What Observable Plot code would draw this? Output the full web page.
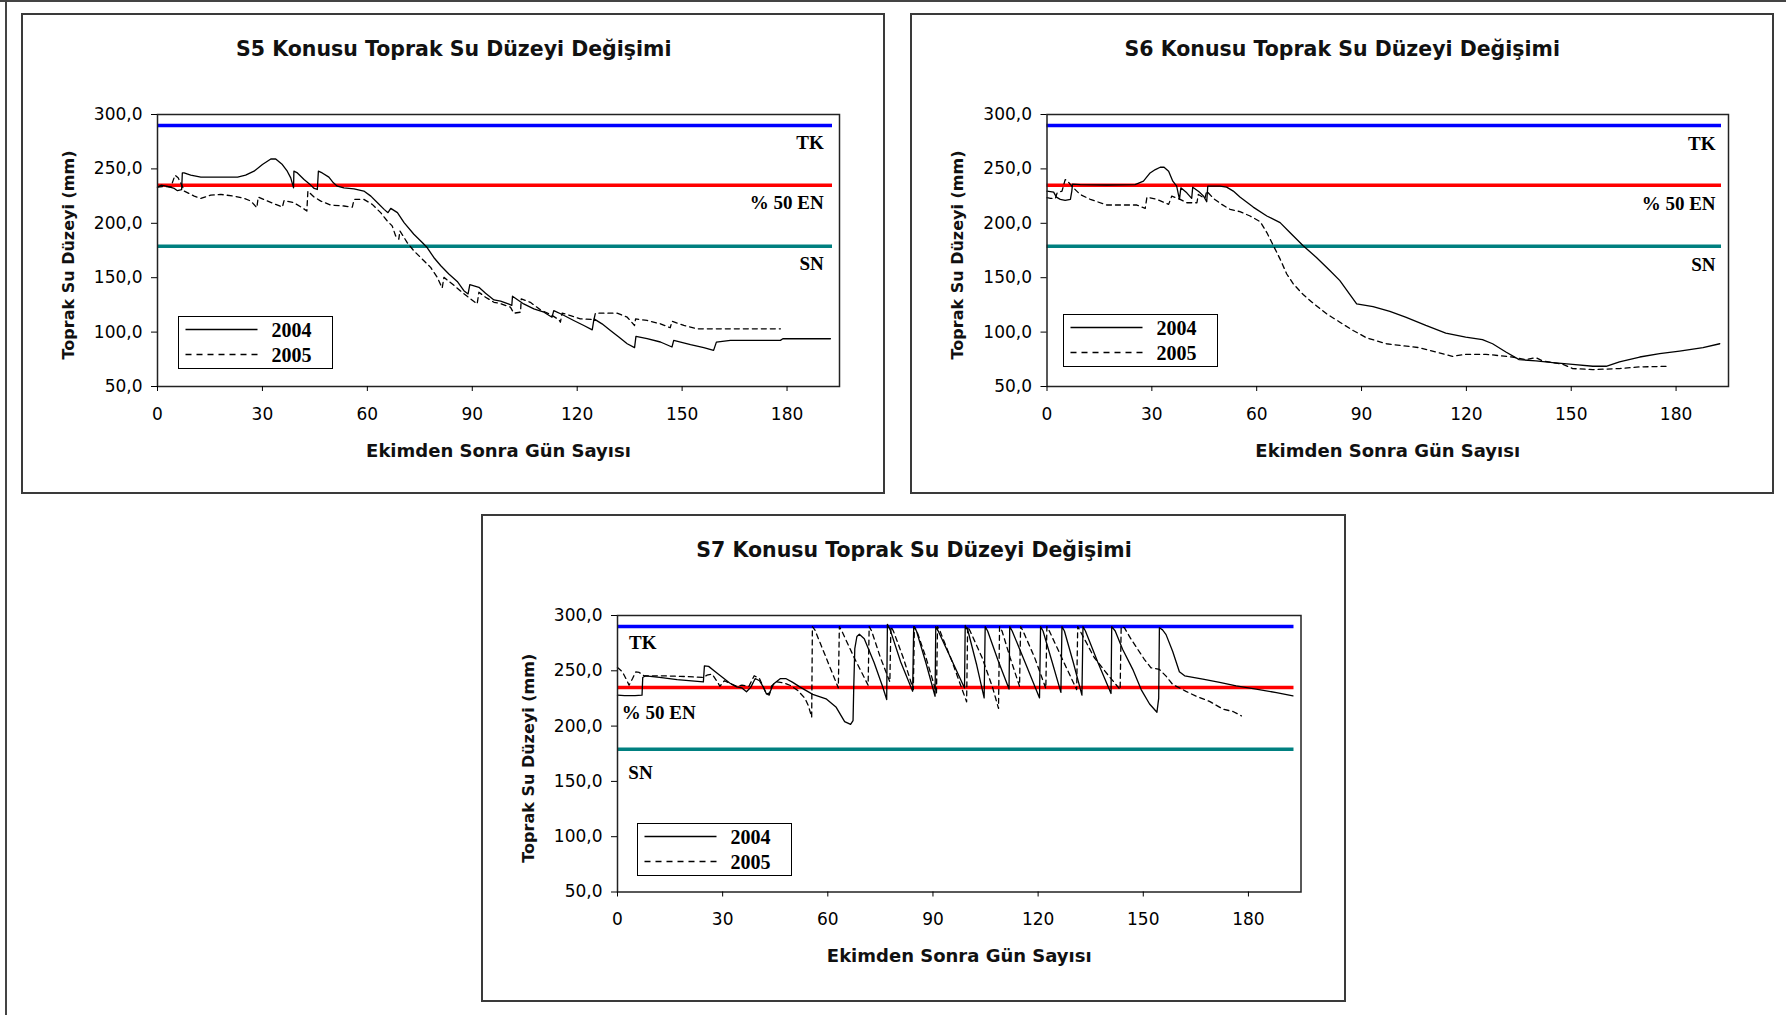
<!DOCTYPE html>
<html>
<head>
<meta charset="utf-8">
<script src="https://cdn.jsdelivr.net/npm/d3@7"></script>
<script src="https://cdn.jsdelivr.net/npm/@observablehq/plot@0.6"></script>
<style>
  html, body { margin: 0; padding: 0; background: #fff; }
  body { width: 1786px; height: 1015px; position: relative; overflow: hidden; font-family: "DejaVu Sans", sans-serif; }
  .topline { position: absolute; left: 0; top: 0; width: 1786px; height: 2px; background: #444; }
  .leftline { position: absolute; left: 5px; top: 0; width: 2px; height: 1015px; background: #444; }
  .panel { position: absolute; border: 2px solid #3a3a3a; box-sizing: border-box; background: #fff; }
  .panel svg.plot { position: absolute; left: 0; top: 0; overflow: visible; }
  .legend { position: absolute; border: 1.5px solid #000; box-sizing: border-box; background: #fff; width: 155px; height: 53px; }
  .legend svg { position: absolute; left: 0; top: 0; }
</style>
</head>
<body>
<div class="topline"></div>
<div class="leftline"></div>
<script>
// ---------- DATA ----------
const xTicks = [0, 30, 60, 90, 120, 150, 180];
const yTicks = [50, 100, 150, 200, 250, 300];
const seriesNames = ["2004", "2005"];
const refNames = ["TK", "% 50 EN", "SN"];
const refValues = [290, 235, 179];
const refEnd = 193;
const xTitle = "Ekimden Sonra Gün Sayısı";
const yTitle = "Toprak Su Düzeyi (mm)";
const titles = ["S5 Konusu Toprak Su Düzeyi Değişimi", "S6 Konusu Toprak Su Düzeyi Değişimi", "S7 Konusu Toprak Su Düzeyi Değişimi"];

const s5_2004 = [[0,233.2],[1,235],[2.9,234],[4.8,232],[5.7,230],[6.9,231],[7.1,246.3],[7.6,246.3],[9.5,244.2],[12.4,242.4],[17.1,242.4],[22.9,242.4],[25.2,244.2],[27.6,247.9],[30,254],[32.4,259.1],[33.8,259.1],[35.7,254],[37.1,247.9],[38.1,241.8],[38.9,232.6],[39.0,247.9],[40,246.3],[41.9,240.2],[43.8,235.1],[44.8,232],[45.7,231.1],[46,247.9],[47.1,246.3],[49,242.4],[50.3,237.2],[51.4,234.1],[53.3,232.6],[56.2,231.7],[59,229.6],[61,225],[62.9,218.9],[64.8,212.8],[65.9,209.8],[66.7,213.7],[68.6,209.8],[70.5,200.6],[73.3,189.9],[75.7,182.3],[77.1,177.7],[79,168.6],[81,161],[83.3,153.4],[85.7,146.6],[87.6,138.1],[88.8,135.1],[89.3,143.6],[91.9,141.2],[93.8,135.7],[96.2,129.6],[98.1,128.5],[100.3,126],[101.3,124.5],[101.5,133],[104.7,125.9],[107.6,121.3],[110.5,118.3],[112.8,113.7],[113.3,119.8],[115.7,116.2],[119,110.7],[121.9,106.1],[124.3,102.1],[124.8,112.2],[127.1,107.6],[129.5,101.5],[131.9,95.4],[134.3,89.3],[136.4,85.7],[136.8,96],[140,93.9],[143.8,90.9],[147.1,86.3],[147.6,92.4],[152.4,88.4],[156.2,85.7],[159,83.2],[159.8,90.8],[163.8,92.4],[178.1,92.4],[178.8,93.9],[192.4,93.9]];
const s5_2005 = [[0,233.2],[2,234],[3.8,233.2],[5,244.2],[5.9,241.8],[7.1,234.1],[7.6,229.6],[10.5,225],[12.4,222.9],[15.2,225.9],[18.1,226.5],[21.9,225],[24.8,222.9],[26.7,220.4],[28.4,214.3],[28.8,224.1],[31,221],[33.8,217.4],[35.7,214.9],[36.2,221],[39,218.9],[41.4,214.3],[42.7,211.3],[43,229.6],[44.8,224.1],[46.7,220.4],[49.5,216.8],[53.3,215.9],[55.7,214.9],[56.2,222],[59,222],[61.4,217.4],[63.8,209.8],[65.7,202.1],[67.1,197.6],[68.1,188.4],[69,185.4],[69.3,193],[71.4,182.3],[73.3,174.7],[75.7,167.1],[78.1,159.5],[80,150.3],[81.4,140.5],[81.9,150.3],[84.3,144.2],[87.1,136.6],[89.5,130.5],[91.4,125.9],[91.9,136.6],[93.8,132],[96.2,127.4],[98.1,126.2],[100.9,122.9],[101.9,117.4],[103.8,118.3],[104,130.5],[106.6,127.4],[109.5,120.4],[112.4,116.2],[114.8,111.3],[115.2,109.1],[115.7,117.4],[118.1,115.2],[120.9,112.2],[124.8,111.5],[125.2,117.4],[131.4,117.4],[134.3,113.7],[136.4,106.1],[136.7,112.2],[140,110.7],[143.8,107.6],[146.6,104],[147.1,110],[150.5,106.1],[154.3,103],[178.1,103]];

const s6_2004 = [[0,229.6],[1.9,228.7],[2.7,224.1],[3.8,222],[5.2,221],[6.7,222],[7.1,229.6],[7.3,236],[9.5,235.5],[17.1,235.2],[25.2,235.5],[27.6,238.7],[29.5,246.3],[31,249.4],[32.4,251.5],[33.5,251.5],[34.8,247.9],[36,238.7],[37.1,234.1],[37.9,222],[38.3,232.6],[40,228],[41.4,222.9],[41.7,233.2],[43.5,229],[44.8,225],[45.7,219.8],[46,234.1],[49.5,234.1],[51.4,233.2],[53.3,229.6],[55.2,224.1],[59,214.9],[62.9,206.7],[66.7,200.6],[69.5,191.5],[73.3,179.3],[77.1,168.6],[81,156.4],[83.8,147.3],[88.6,125.9],[93.3,123.5],[98.1,119],[102.6,113.7],[108.4,106.1],[114.1,99.1],[119.8,95.4],[124.6,93],[127.5,89.3],[131.3,81.7],[135.1,74.7],[139.9,73.5],[144.7,72],[150.4,70.4],[156.2,68.6],[160,68.6],[163.8,72.6],[169.6,77.1],[175.3,80.2],[181,82.6],[187.7,85.7],[192.5,89.3]];
const s6_2005 = [[0,223.5],[1,222.9],[2.4,222.9],[2.9,228],[4.3,229.6],[5.2,240.2],[5.9,238.7],[7.1,234.1],[9.5,226.5],[12.4,222],[17.1,216.8],[25.7,216.8],[28.1,213.7],[28.6,224.1],[31.4,222],[34.8,217.4],[35.7,225],[38.1,222],[40,218.9],[42.9,218.9],[43.3,226.5],[45.2,222.9],[45.7,229.6],[47.6,222.9],[50,217.4],[52.4,212.8],[55.2,210.7],[58.1,206.7],[61,201.5],[62.9,191.5],[64.8,179.3],[66.7,167.1],[68.6,153.4],[70.5,144.2],[73.3,134.5],[76.2,126.5],[80,116.8],[83.8,109.1],[87.6,101.5],[91.4,94.8],[97.1,89.3],[106.5,85.7],[111.2,81.7],[116,77.7],[119.8,79.6],[125.6,79.6],[133.2,77.1],[137,74.7],[139.9,76.5],[141.8,73.5],[147.6,70.4],[150.4,66.5],[156.2,65.5],[163.8,66.5],[169.6,68],[178.2,68.6]];

const s7_2004 = [[0,228],[2,227.5],[5,227.5],[7,228],[7.2,244],[8,245.5],[12,244],[17,242],[24.5,240],[24.8,254.5],[26,254],[28,249],[30,244],[32,239],[34,235.5],[35.5,234.5],[36.8,231],[38,235],[39.3,243],[40.5,241],[41.5,236],[42.5,229],[43.4,230],[44.5,238],[46.5,243],[48,243],[50,239.5],[52,235.5],[55.7,228.7],[59.5,224.7],[62.4,217],[64.8,204],[66.5,201.5],[67.2,205],[67.4,235],[67.7,270],[68.3,281],[69,283],[70.4,279],[73.2,257.5],[75.6,236],[76.8,224],[77.0,292],[77.8,287],[80.8,258],[84.2,231.5],[84.5,290],[85.3,286],[88,257],[90.6,227],[90.8,290],[91.5,286],[95,262],[99,234.5],[99.2,291],[100,286],[102.5,255],[104.6,225.5],[104.9,290],[105.6,286],[108.5,260],[111.7,233.5],[111.9,290],[112.6,286],[116.5,256],[120.4,225.5],[120.7,290],[121.4,286],[124,258],[126.5,230.5],[126.8,290],[127.5,286],[130,258],[132.5,228],[132.8,290],[133.5,286],[137,258],[140.8,229.5],[141,290],[142,286],[144.1,269.5],[147,251.3],[149.4,233],[151.8,220],[153.9,212.5],[154.4,225],[154.6,289],[155.5,287],[156.5,282.7],[158.4,267.5],[160.3,249.2],[161.8,245.5],[167,242.5],[171.8,239.5],[176.5,236.4],[182.2,233.4],[188,230.3],[192.7,227.3]];
const s7_2005 = [[0,253],[1.4,249],[2.4,243],[3.3,237],[4.3,243],[5.2,249],[6.2,248.5],[7.6,245.5],[12,245.5],[18,245],[24.5,244],[25.5,246],[27,247],[28.5,240],[29.2,236],[30.5,241],[32.5,238],[34,236],[35.5,237],[37.5,236],[39,245.5],[40.5,243],[41.5,236],[42.5,229],[43.3,228],[44,236.5],[45.5,240],[47.5,239],[49.5,236.5],[51.5,232],[53.5,225],[54.5,218],[55.4,208],[55.6,290],[56.3,287],[59.5,262],[63.0,234.5],[63.3,290],[64,286],[67.5,262],[71.5,237],[71.8,290],[72.5,286],[75,262],[77.7,240],[78.0,290],[78.7,286],[81.5,262],[84.4,233],[84.7,290],[85.4,286],[88,262],[91.0,230],[91.3,290],[92,286],[95.5,258],[99.6,222],[99.9,290],[100.6,286],[104,262],[107,235],[108.7,216],[109.0,290],[109.7,286],[112,262],[114.7,236],[115.0,290],[115.7,286],[119,262],[122.2,234],[122.5,290],[123.2,286],[127,260],[131.0,233],[131.3,290],[132,286],[136,262],[140,246],[143.4,233],[143.7,290],[144.6,289],[146.5,278.7],[148.4,269.5],[150.3,260.4],[152.2,252.7],[154.6,251.2],[156.5,245.2],[158.4,237.6],[160.3,234.6],[162.2,231.4],[165.1,227],[168.9,222.3],[172.7,215.4],[175.6,213.2],[178,209.2]];

// ---------- LAYOUT (page pixels) ----------
const panels = [
  { title: titles[0], box: [20.5, 12.5, 885, 493.5], frame: [156.5, 113.5, 838.5, 385.5],
    a: s5_2004, b: s5_2005, labSide: "end", labX: [190.5, 190.5, 190.5], labY: [273.5, 218.9, 162.9], legend: [21.8, 202.5] },
  { title: titles[1], box: [910, 12.5, 1773.5, 493.5], frame: [1046.5, 113.5, 1728, 385.5],
    a: s6_2004, b: s6_2005, labSide: "end", labX: [191.3, 191.3, 191.3], labY: [273, 217.5, 162], legend: [16.8, 200.8] },
  { title: titles[2], box: [481, 514, 1346, 1001.5], frame: [617, 615, 1300.5, 891.5],
    a: s7_2004, b: s7_2005, labSide: "start", labX: [3.3, 1.2, 3.1], labY: [275.5, 212, 157.5], legend: [19.6, 207.6] }
];
const refColors = ["#0000ff", "#ff0000", "#008080"];
const BW = 2;
const fmt = d => d3.format(".1f")(d).replace(".", ",");

for (const p of panels) {
  const div = document.createElement("div");
  div.className = "panel";
  const [bx0, by0, bx1, by1] = p.box;
  div.style.left = bx0 + "px";
  div.style.top = by0 + "px";
  div.style.width = (bx1 - bx0) + "px";
  div.style.height = (by1 - by0) + "px";
  document.body.appendChild(div);

  const ox = bx0 + BW, oy = by0 + BW;
  const W = bx1 - bx0 - 2 * BW, H = by1 - by0 - 2 * BW;
  const [fl, ft, fr, fb] = p.frame;
  const mL = fl - ox, mT = ft - oy, mR = W - (fr - ox), mB = H - (fb - oy);
  const boxCx = (bx0 + bx1) / 2, frameCx = (fl + fr) / 2;
  const boxCyOff = ((ft + fb) / 2);

  const marks = [];
  refValues.forEach((v, i) => {
    marks.push(Plot.ruleY([v], { x1: 0, x2: refEnd, stroke: refColors[i], strokeWidth: 3.5 }));
  });
  marks.push(Plot.line(p.a, { x: d => d[0], y: d => d[1], stroke: "#000", strokeWidth: 1.3 }));
  marks.push(Plot.line(p.b, { x: d => d[0], y: d => d[1], stroke: "#000", strokeWidth: 1.3, strokeDasharray: "5,4" }));
  marks.push(Plot.text(refNames, {
    x: (d, i) => p.labX[i], y: (d, i) => p.labY[i], text: d => d,
    textAnchor: p.labSide, fontFamily: "Liberation Serif", fontWeight: "bold", fontSize: 19, fill: "#000"
  }));
  marks.push(Plot.frame({ stroke: "#222", strokeWidth: 1.5 }));
  marks.push(Plot.axisX({ ticks: xTicks, tickSize: 5, tickPadding: 16, label: null, fontSize: 17 }));
  marks.push(Plot.axisY({ ticks: yTicks, tickSize: 6, tickPadding: 9, tickFormat: fmt, label: null, fontSize: 17 }));
  marks.push(Plot.text([p.title], { frameAnchor: "top", textAnchor: "middle", lineAnchor: "middle", dx: boxCx - frameCx, dy: -65, fontWeight: "bold", fontSize: 20.5, fill: "#111" }));
  marks.push(Plot.text([xTitle], { frameAnchor: "bottom", textAnchor: "middle", lineAnchor: "middle", dy: 64.5, fontWeight: "bold", fontSize: 18, fill: "#111" }));
  marks.push(Plot.text([yTitle], { frameAnchor: "left", textAnchor: "middle", lineAnchor: "middle", dx: -89, dy: 4.5, rotate: -90, fontWeight: "bold", fontSize: 16, fill: "#111" }));

  const svg = Plot.plot({
    width: W, height: H,
    marginLeft: mL, marginRight: mR, marginTop: mT, marginBottom: mB,
    x: { domain: [0, 195] },
    y: { domain: [50, 300] },
    style: { fontFamily: "DejaVu Sans", fontSize: "17px", background: "transparent", color: "#000", overflow: "visible" },
    marks
  });
  svg.classList.add("plot");
  div.appendChild(svg);

  // legend
  const lg = document.createElement("div");
  lg.className = "legend";
  lg.style.left = (fl - ox + p.legend[0]) + "px";
  lg.style.top = (ft - oy + p.legend[1]) + "px";
  const ns = "http://www.w3.org/2000/svg";
  const ls = document.createElementNS(ns, "svg");
  ls.setAttribute("width", 152); ls.setAttribute("height", 50);
  seriesNames.forEach((name, i) => {
    const yy = 12.5 + i * 25;
    const ln = document.createElementNS(ns, "line");
    ln.setAttribute("x1", 6.5); ln.setAttribute("x2", 78.5);
    ln.setAttribute("y1", yy); ln.setAttribute("y2", yy);
    ln.setAttribute("stroke", "#000"); ln.setAttribute("stroke-width", 1.3);
    if (i === 1) ln.setAttribute("stroke-dasharray", "6,5");
    ls.appendChild(ln);
    const tx = document.createElementNS(ns, "text");
    tx.setAttribute("x", 92.5); tx.setAttribute("y", yy);
    tx.setAttribute("dy", "0.35em");
    tx.setAttribute("font-family", "Liberation Serif");
    tx.setAttribute("font-weight", "bold");
    tx.setAttribute("font-size", 20);
    tx.textContent = name;
    ls.appendChild(tx);
  });
  lg.appendChild(ls);
  div.appendChild(lg);
}
</script>
</body>
</html>
